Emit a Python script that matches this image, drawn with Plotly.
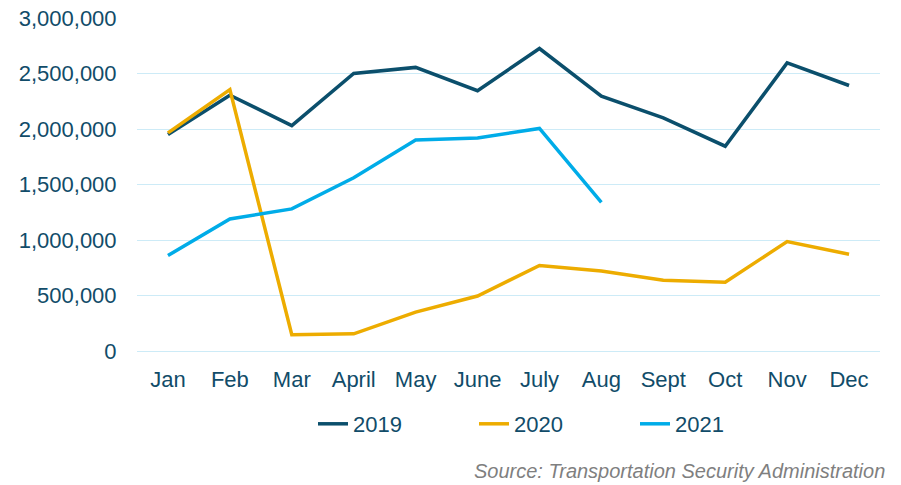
import plotly.graph_objects as go

months = ["Jan", "Feb", "Mar", "April", "May", "June", "July", "Aug", "Sept", "Oct", "Nov", "Dec"]
y2019 = [1950000, 2305000, 2030000, 2500000, 2555000, 2345000, 2725000, 2295000, 2100000, 1845000, 2595000, 2392000]
y2020 = [1965000, 2355000, 146000, 155000, 350000, 495000, 770000, 720000, 638000, 620000, 986000, 872000]
y2021 = [860000, 1190000, 1280000, 1560000, 1900000, 1920000, 2005000, 1340000]

colors = {"2019": "#0B4F6C", "2020": "#EDAC00", "2021": "#00ACE8"}
text_color = "#114C69"

W, H = 901, 485
L, R, T, B = 137, 21, 18, 133.5
PW, PH = W - L - R, H - T - B

fig = go.Figure()
for name, ys in [("2019", y2019), ("2020", y2020), ("2021", y2021)]:
    fig.add_trace(go.Scatter(
        x=months[:len(ys)], y=ys, name=name, mode="lines",
        line=dict(color=colors[name], width=3.5),
    ))

fig.update_layout(
    width=W, height=H,
    margin=dict(l=L, r=R, t=T, b=B, autoexpand=False),
    plot_bgcolor="white", paper_bgcolor="white",
    font=dict(family="Liberation Sans, Arial, sans-serif", size=22, color=text_color),
    showlegend=True,
    legend=dict(orientation="h", xref="container", yref="container",
                x=313 / W, xanchor="left", y=1 - 424 / H, yanchor="middle",
                font=dict(size=22, color=text_color), entrywidth=116),
    xaxis=dict(type="category", categoryorder="array", categoryarray=months,
               range=[-0.5, 11.5], automargin=False,
               showgrid=False, showline=False, zeroline=False,
               ticks="outside", ticklen=9, tickcolor="rgba(0,0,0,0)",
               tickfont=dict(size=22, color=text_color)),
    yaxis=dict(range=[0, 3000000], dtick=500000, tickformat=",d", automargin=False,
               showgrid=True, gridcolor="#CDEBF7", gridwidth=1.3,
               zeroline=True, zerolinecolor="#CDEBF7", zerolinewidth=1.3,
               showline=False, ticks="outside", ticklen=15, tickcolor="rgba(0,0,0,0)",
               tickfont=dict(size=22, color=text_color)),
    annotations=[dict(text="<i>Source: Transportation Security Administration</i>",
                      xref="paper", yref="paper", x=(887 - L) / PW,
                      y=-(472 - (H - B)) / PH, xanchor="right", yanchor="middle",
                      showarrow=False, font=dict(size=20, color="#7F7F7F"))],
)

fig.write_html("out.html", config={"displayModeBar": False},
               post_script="document.body.style.margin='0';")
